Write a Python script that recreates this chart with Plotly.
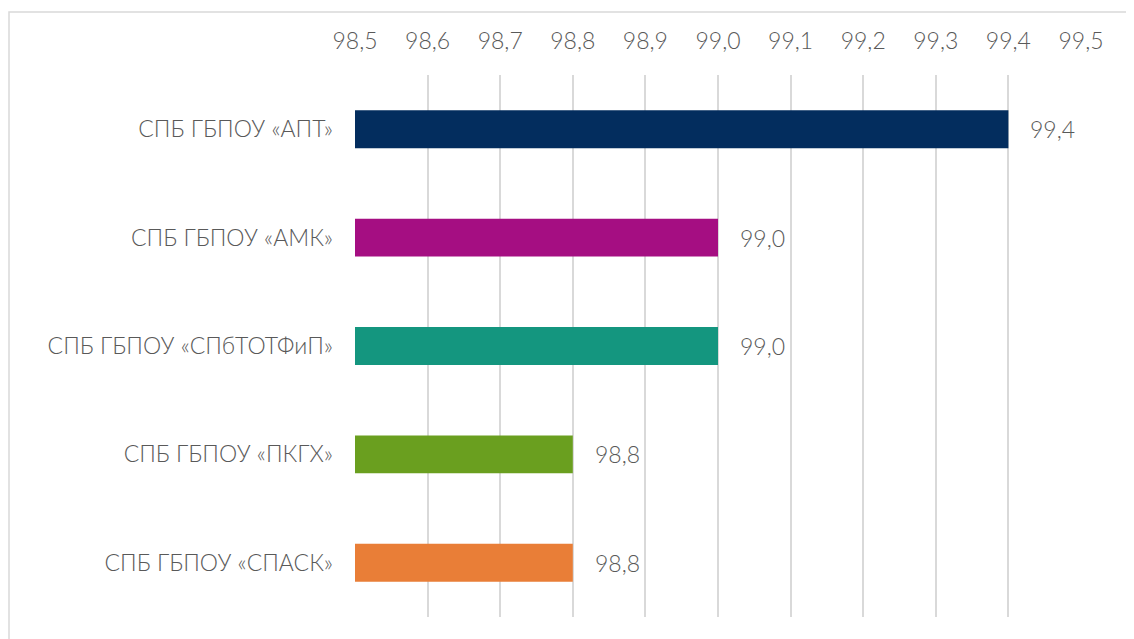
import plotly.graph_objects as go

categories = ["СПБ ГБПОУ «АПТ»", "СПБ ГБПОУ «АМК»", "СПБ ГБПОУ «СПбТОТФиП»",
              "СПБ ГБПОУ «ПКГХ»", "СПБ ГБПОУ «СПАСК»"]
values = [99.4, 99.0, 99.0, 98.8, 98.8]
colors = ["#032D5E", "#A50E82", "#14967F", "#6A9F1F", "#E97E37"]
tick_vals = [98.5, 98.6, 98.7, 98.8, 98.9, 99.0, 99.1, 99.2, 99.3, 99.4, 99.5]

FONT = "Lato, 'DejaVu Sans', sans-serif"
GRAY = "#595959"
FS = 23

fig = go.Figure()
fig.add_trace(go.Bar(
    y=categories, x=[v - 98.5 for v in values], base=98.5, orientation="h",
    marker=dict(color=colors, line=dict(width=0)),
    hoverinfo="skip",
))

for c, v in zip(categories, values):
    fig.add_annotation(x=v, y=c, text=f"{v:.1f}".replace(".", ","), showarrow=False,
                       xanchor="left", xshift=20,
                       font=dict(family=FONT, size=FS, color=GRAY, weight=300))

# page body adds an 8px offset
W, H = 1126, 631
L, R, T, B = 347, 53, 67, 22
pw, ph = W - L - R, H - T - B
fig.add_shape(type="rect", xref="paper", yref="paper",
              x0=(1 - L) / pw, x1=1.3, y0=-0.3, y1=1 + (T - 4) / ph,
              line=dict(color="#d9d9d9", width=1.5), fillcolor="rgba(0,0,0,0)", layer="below")

fig.update_layout(
    width=W, height=H,
    margin=dict(l=L, r=R, t=T, b=B),
    paper_bgcolor="white", plot_bgcolor="white",
    bargap=0.65, showlegend=False,
    separators=", ",
    font=dict(family=FONT, color=GRAY, weight=300),
    xaxis=dict(side="top", range=[98.5, 99.5], tickvals=tick_vals, tickformat=".1f",
               showgrid=True, gridcolor="#d9d9d9", gridwidth=1.5, zeroline=False,
               showline=False, ticks="", ticklabelstandoff=20,
               tickfont=dict(family=FONT, size=FS, color=GRAY, weight=300)),
    yaxis=dict(autorange="reversed", showgrid=False, zeroline=False, showline=False,
               ticks="", ticklabelstandoff=21,
               tickfont=dict(family=FONT, size=FS, color=GRAY, weight=300)),
)

fig.write_html("out.html")
